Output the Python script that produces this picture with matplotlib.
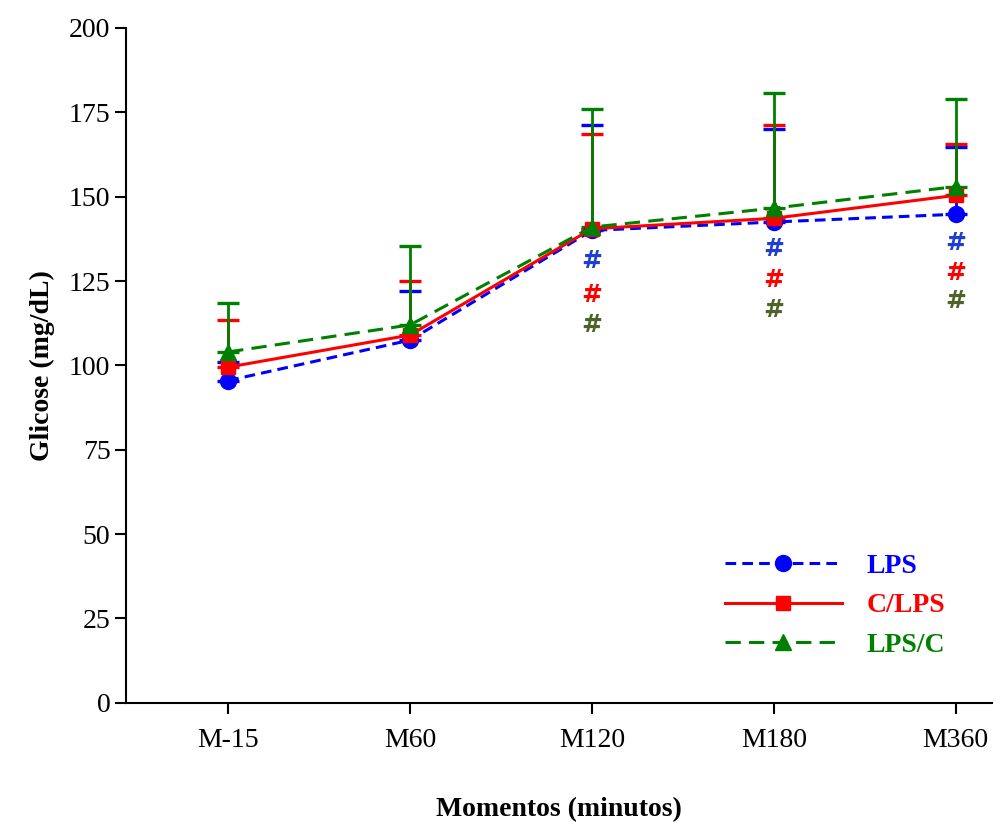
import matplotlib.pyplot as plt

plt.rcParams['font.family'] = ['Liberation Serif', 'DejaVu Serif']

momentos = ["M-15", "M60", "M120", "M180", "M360"]
lps = [95.5, 107.5, 140.0, 142.5, 144.8]
lps_sup = [101.0, 122.0, 171.2, 170.2, 164.7]
clps = [99.5, 109.0, 140.5, 143.6, 150.4]
clps_sup = [113.4, 125.0, 168.5, 171.2, 165.6]
lpsc = [104.0, 112.0, 141.0, 146.6, 153.0]
lpsc_sup = [118.4, 135.3, 176.0, 180.7, 179.0]

# posicao dos # (indices dos momentos com diferenca)
hash_idx = [2, 3, 4]
hash_y = {"#1f3fd0": [130.9, 134.4, 136.2], "red": [121.0, 125.2, 127.3],
          "#4f6228": [111.9, 116.3, 119.0]}

x = list(range(len(momentos)))

fig = plt.figure(figsize=(9.95, 8.23), dpi=100)
ax = fig.add_axes([0.127, 0.146, 0.87, 0.82])

series = [
    ("LPS", lps, lps_sup, "blue", "o", (0, (3.5, 2)), 11.5),
    ("C/LPS", clps, clps_sup, "red", "s", "-", 10),
    ("LPS/C", lpsc, lpsc_sup, "green", "^", (0, (5, 2.7)), 11),
]

handles = []
for name, y, sup, cor, mk, ls, ms in series:
    err = [s - v for s, v in zip(sup, y)]
    ax.errorbar(x, y, yerr=[[0] * len(y), err], fmt="none", ecolor=cor,
                elinewidth=2, capsize=8, capthick=2.4, zorder=2)
    h, = ax.plot(x, y, color=cor, linestyle=ls, linewidth=2.2,
                 marker=mk, markersize=ms, zorder=3)
    handles.append(h)

for cor, ys in hash_y.items():
    for i, yy in zip(hash_idx, ys):
        ax.text(i, yy, "#", color=cor, fontsize=18, fontweight="bold",
                family="DejaVu Sans", ha="center", va="center")

leg = ax.legend(handles, ["LPS", "C/LPS", "LPS/C"], loc="lower right",
                bbox_to_anchor=(0.975, 0.03), frameon=False,
                handlelength=4.2, handletextpad=0.9, labelspacing=0.5,
                prop={"weight": "bold", "size": 20})
for t, (_, _, _, cor, _, _, _) in zip(leg.get_texts(), series):
    t.set_color(cor)

ax.set_xlim(-0.56, 4.2)
ax.set_ylim(0, 200)
ax.set_yticks(range(0, 201, 25))
ax.set_xticks(x)
ax.set_xticklabels(momentos)
ax.tick_params(labelsize=20, width=1.5, length=8, direction="out")
ax.tick_params(axis="x", pad=10)
ax.spines["top"].set_visible(False)
ax.spines["right"].set_visible(False)
ax.spines["left"].set_linewidth(1.5)
ax.spines["bottom"].set_linewidth(1.5)

ax.set_ylabel("Glicose (mg/dL)", fontsize=20, fontweight="bold", labelpad=10)
ax.set_xlabel("Momentos (minutos)", fontsize=20, fontweight="bold", labelpad=32)

fig.savefig("out.png", dpi=100)
